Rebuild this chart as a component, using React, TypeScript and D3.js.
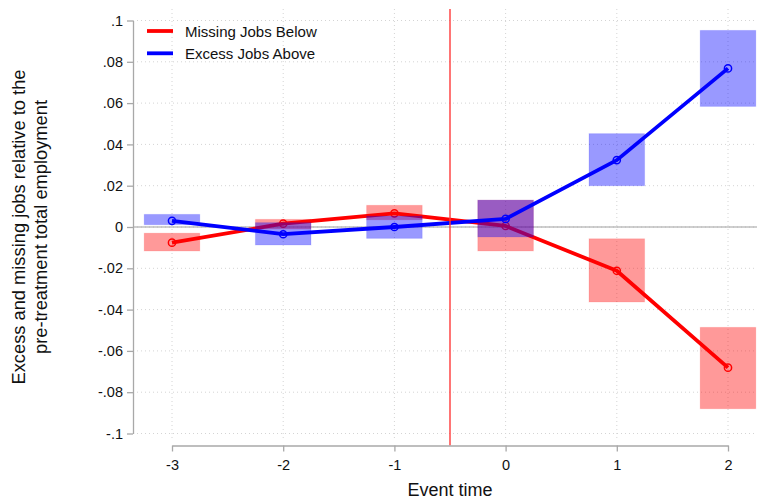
import { useEffect, useRef } from "react";
import * as d3 from "d3";

const eventTime = [-3, -2, -1, 0, 1, 2];
const xTickLabels = ["-3", "-2", "-1", "0", "1", "2"];

// Missing Jobs Below (red)
const missingEst = [-0.0076, 0.0016, 0.0066, 0.0005, -0.0212, -0.0681];
const missingLo = [-0.0116, -0.001, 0.0035, -0.0116, -0.0363, -0.088];
const missingHi = [-0.003, 0.0037, 0.0105, 0.013, -0.0057, -0.0486];

// Excess Jobs Above (blue)
const excessEst = [0.003, -0.0035, 0.0, 0.0039, 0.0324, 0.0768];
const excessLo = [0.0011, -0.0087, -0.0055, -0.0048, 0.02, 0.0584];
const excessHi = [0.0061, 0.0021, 0.0053, 0.013, 0.0452, 0.0952];

const yTicks = [-0.1, -0.08, -0.06, -0.04, -0.02, 0, 0.02, 0.04, 0.06, 0.08, 0.1];
const yTickLabels = ["-.1", "-.08", "-.06", "-.04", "-.02", "0", ".02", ".04", ".06", ".08", ".1"];
const treatmentLine = -0.5;

const width = 757;
const height = 500;

const App = () => {
  const ref = useRef<SVGSVGElement>(null);

  useEffect(() => {
    const svg = d3.select(ref.current);
    svg.selectAll("*").remove();

    const font = "'Liberation Sans', Arial, sans-serif";
    const axisColor = "#a8a8a8";
    const plotLeft = 133;
    const plotRight = 757;
    const plotTop = 9;
    const plotBottom = 440;

    const x = d3.scaleLinear().domain([-3, 2]).range([172, 728]);
    const y = d3.scaleLinear().domain([-0.1, 0.1]).range([433.5, 20.5]);
    const halfW = x(0.25) - x(0);

    // grid
    const grid = svg.append("g");
    grid.selectAll("line.h")
      .data(yTicks)
      .join("line")
      .attr("x1", plotLeft)
      .attr("x2", plotRight)
      .attr("y1", (d) => y(d))
      .attr("y2", (d) => y(d))
      .attr("stroke", "#d4d4d4")
      .attr("stroke-width", 1)
      .attr("stroke-dasharray", "1,3");
    grid.selectAll("line.v")
      .data(eventTime)
      .join("line")
      .attr("x1", (d) => x(d))
      .attr("x2", (d) => x(d))
      .attr("y1", plotTop)
      .attr("y2", plotBottom)
      .attr("stroke", "#d4d4d4")
      .attr("stroke-width", 1)
      .attr("stroke-dasharray", "1,3");

    // zero line
    svg.append("line")
      .attr("x1", plotLeft)
      .attr("x2", plotRight)
      .attr("y1", y(0))
      .attr("y2", y(0))
      .attr("stroke", "#a0a0a0")
      .attr("stroke-width", 1.2);

    const drawSeries = (est: number[], lo: number[], hi: number[], color: string) => {
      svg.append("g")
        .selectAll("rect")
        .data(eventTime)
        .join("rect")
        .attr("x", (d) => x(d) - halfW)
        .attr("width", halfW * 2)
        .attr("y", (d, i) => y(hi[i]))
        .attr("height", (d, i) => y(lo[i]) - y(hi[i]))
        .attr("fill", color)
        .attr("fill-opacity", 0.4)
        .attr("stroke", color)
        .attr("stroke-opacity", 0.12)
        .attr("stroke-width", 1);

      const line = d3.line<number>()
        .x((d) => x(d))
        .y((d, i) => y(est[i]));
      svg.append("path")
        .datum(eventTime)
        .attr("d", line)
        .attr("fill", "none")
        .attr("stroke", color)
        .attr("stroke-width", 3.8)
        .attr("stroke-linejoin", "round");

      svg.append("g")
        .selectAll("circle")
        .data(eventTime)
        .join("circle")
        .attr("cx", (d) => x(d))
        .attr("cy", (d, i) => y(est[i]))
        .attr("r", 3.6)
        .attr("fill", "none")
        .attr("stroke", color)
        .attr("stroke-width", 1.5);
    };

    drawSeries(missingEst, missingLo, missingHi, "#ff0000");
    drawSeries(excessEst, excessLo, excessHi, "#0000ff");

    // treatment line
    svg.append("line")
      .attr("x1", x(treatmentLine))
      .attr("x2", x(treatmentLine))
      .attr("y1", plotTop)
      .attr("y2", 445.5)
      .attr("stroke", "#ff3a3a")
      .attr("stroke-width", 1.4);

    // y axis
    const yAxis = d3.axisLeft(y)
      .tickValues(yTicks)
      .tickFormat((d, i) => yTickLabels[i])
      .tickSize(6)
      .tickSizeOuter(0)
      .tickPadding(4);
    svg.append("g")
      .attr("transform", `translate(${plotLeft},0)`)
      .call(yAxis)
      .call((g) => g.select(".domain").attr("stroke", axisColor).attr("stroke-width", 1.3))
      .call((g) => g.selectAll(".tick line").attr("stroke", axisColor).attr("stroke-width", 1.3))
      .call((g) => g.selectAll(".tick text")
        .attr("fill", "#111")
        .attr("font-family", font)
        .attr("font-size", 14.5));

    // x axis
    const xAxis = d3.axisBottom(x)
      .tickValues(eventTime)
      .tickFormat((d, i) => xTickLabels[i])
      .tickSize(6)
      .tickSizeOuter(0)
      .tickPadding(8);
    svg.append("g")
      .attr("transform", `translate(0,445.5)`)
      .call(xAxis)
      .call((g) => g.select(".domain").attr("stroke", axisColor).attr("stroke-width", 1.3))
      .call((g) => g.selectAll(".tick line").attr("stroke", axisColor).attr("stroke-width", 1.3))
      .call((g) => g.selectAll(".tick text")
        .attr("fill", "#111")
        .attr("font-family", font)
        .attr("font-size", 14.5));

    // axis titles
    svg.append("text")
      .attr("x", 450)
      .attr("y", 496)
      .attr("text-anchor", "middle")
      .attr("font-family", font)
      .attr("font-size", 18)
      .attr("fill", "#111")
      .text("Event time");

    const yTitle = svg.append("text")
      .attr("transform", `translate(24.5,227) rotate(-90)`)
      .attr("text-anchor", "middle")
      .attr("font-family", font)
      .attr("font-size", 18.3)
      .attr("fill", "#111");
    yTitle.append("tspan").attr("x", 0).attr("dy", 0).text("Excess and missing jobs relative to the");
    yTitle.append("tspan").attr("x", 0).attr("dy", 22).text("pre-treatment total employment");

    // legend
    const legend = [
      { label: "Missing Jobs Below", color: "#ff0000" },
      { label: "Excess Jobs Above", color: "#0000ff" },
    ];
    const lg = svg.append("g");
    legend.forEach((l, i) => {
      const ly = 31 + i * 22.3;
      lg.append("line")
        .attr("x1", 147)
        .attr("x2", 173)
        .attr("y1", ly)
        .attr("y2", ly)
        .attr("stroke", l.color)
        .attr("stroke-width", 3.8);
      lg.append("text")
        .attr("x", 185)
        .attr("y", ly + 5.5)
        .attr("font-family", font)
        .attr("font-size", 15)
        .attr("fill", "#111")
        .text(l.label);
    });
  }, []);

  return (
    <svg
      ref={ref}
      width={width}
      height={height}
      style={{ position: "absolute", left: 0, top: 0, background: "#fff" }}
    />
  );
};

export default App;
